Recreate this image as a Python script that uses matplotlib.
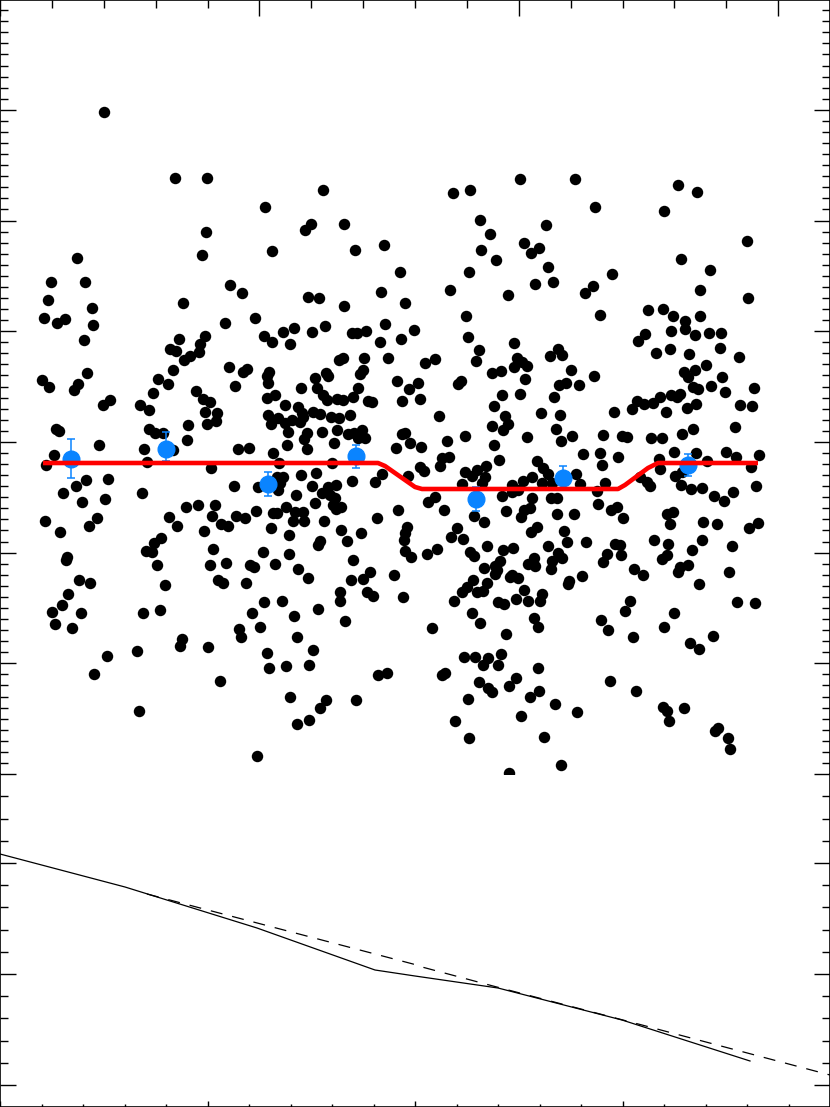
import numpy as np
import matplotlib
matplotlib.use("Agg")
import matplotlib.pyplot as plt
from matplotlib.ticker import MultipleLocator, NullFormatter, FixedLocator

# no labels on the original, so values are kept in read-off units
pts_a_x = [104,175,207,323,265,311,305,344,206,384,272,355,202,77,400,51,85,230,242,381,48,308,319,183,405,344,92,44,57,65,93,255,225,325,294,283,312,352,357,366,385,414,264,272,290,380,401,84,179,205,200,170,176,199,190,184,339,343,364,388,229,247,243,269,173,363,87,326]
pts_a_y = [112,178,178,190,207,224,230,224,232,245,251,250,255,258,272,282,282,285,293,292,300,297,298,303,303,306,308,318,323,319,325,318,323,326,328,332,332,333,333,331,324,330,336,342,344,342,339,340,339,336,344,349,351,352,356,360,360,358,358,358,367,369,372,372,370,370,373,373]

pts_b_x = [520,575,453,470,678,697,595,664,480,490,546,524,539,531,481,496,747,681,710,548,469,612,593,585,535,553,450,508,700,748,466,600,648,663,673,700,685,685,671,645,638,695,709,721,468,514,479,476,558,562,550,670,656,689,720,739,706,435,425,517,522,527,514,501,492,571,695,684]
pts_b_y = [179,179,193,190,185,192,207,211,220,234,225,243,248,253,250,260,241,259,270,267,272,274,286,293,284,282,290,295,290,298,316,315,310,309,316,316,321,329,331,334,341,335,333,333,337,343,350,361,349,355,356,349,353,354,348,357,365,359,363,358,362,366,367,371,373,370,370,372]

pts_c_x = [42,49,78,74,110,103,140,149,153,158,168,196,203,210,205,217,216,207,188,187,235,267,275,267,268,285,301,315,328,317,323,327,337,343,353,358,360,368,372,397,409,402,298,302,303,268,278,271,285,292,300,288,313,320,331,339,350,307,304,322,337,348,354,362,358,365,334,396,405,402,410,56,59,149,155,163,144,99,54,46,147,166,173,238,249,287,307,273,279,211,332,86,108,76,63,105,82,142,234,258,283,280,277,278,301,316,312,296,328,336,322,330,335,315,333,336,341,352,375,382,408,286,256,215,198,186,212,236,245,273,277,295,303,293,304,324,377,398,45,60,89,97,169,177,204,221,228,271,289,341,347,361,320,318,161,154,146,152,213,263,289,353,407,405,404,405,411,67,66,157,210,226,250,254,275,298,308,370,363,351,394,79,90,68,165,218,223,246,340,340,367,373,403,62,52,81,55,72,143,160,264,282,252,318,294,260,239,241,345,182,180,208,297,313,267,137,107,286,269,309,94,220,378,387,290,326,356,320,139,309,297,257]
pts_c_y = [380,387,384,390,400,405,405,410,393,379,384,391,399,402,412,413,421,424,425,440,386,398,395,376,383,405,388,378,376,388,395,400,399,400,397,388,374,401,402,381,389,401,407,413,417,415,418,424,423,420,422,432,412,414,417,418,415,433,439,432,430,434,433,430,438,438,443,448,433,434,443,429,431,429,433,433,449,445,455,465,462,450,450,449,448,445,449,453,463,468,463,480,479,486,493,499,502,493,486,487,477,483,477,490,475,473,486,495,487,485,493,495,498,503,505,509,507,481,482,474,476,507,511,505,505,507,516,516,518,513,513,512,512,521,521,521,518,510,521,532,526,518,517,526,531,524,526,528,535,530,541,533,541,545,538,543,551,552,549,552,554,560,527,533,540,551,557,557,560,565,565,563,565,567,564,569,578,572,579,580,575,580,583,594,585,580,583,583,592,601,592,596,597,605,612,613,624,628,613,610,602,601,613,609,616,627,629,637,621,639,646,647,637,650,653,651,656,666,668,665,674,681,675,673,697,700,700,708,711,720,724,756]

pts_d_x = [525,594,458,461,418,420,559,566,579,688,722,693,698,711,725,754,502,520,554,494,740,752,671,680,677,660,653,644,637,632,614,666,687,696,541,560,439,505,508,503,492,556,572,561,527,603,622,627,651,662,682,693,735,465,447,421,494,499,583,600,618,602,726,736,759,674,696,707,659,660,751,449,442,440,420,424,486,477,465,472,485,537,543,548,532,523,512,518,512,542,552,576,580,605,597,462,482,640,647,650,675,682,681,691,702,714,724,733,756,435,428,444,502,532,551,557,598,617,611,623,506,530,524,521,557,574,474,484,667,673,670,703,717,758,749,537,531,564,457,451,463,567,586,654,668,702,692,732,548,615,620,487,503,513,437,427,470,474,621,607,603,667,662,558,562,552,551,534,528,535,500,495,497,495,484,512,518,510,634,643,680,688,678,729,699,582,569,568,473,487,483,477,467,462,524,542,540,528,516,498,504,454,630,625,737,755,674,472,480,534,538,601,608,432,664,633,506,690,699,713,501,464,475,488,483,498,538,445,442,479,516,509,488,492,539,530,610,636,468,555,577,521,455,663,667,684,669,718,715,728,469,544,730,509,561]
pts_d_y = [379,376,384,381,383,399,385,383,385,377,377,387,389,386,392,388,395,394,397,406,405,406,395,394,397,397,403,404,401,409,412,412,408,404,413,415,416,416,424,430,426,429,436,441,437,435,436,437,438,438,434,429,427,436,441,447,445,460,454,453,457,465,452,457,455,452,453,461,459,469,467,457,458,466,467,471,466,470,472,476,477,461,468,474,477,481,485,490,492,483,483,474,484,483,491,484,483,477,482,486,476,472,485,489,488,496,501,492,486,497,502,510,496,498,498,498,504,507,510,518,511,508,510,517,514,514,516,522,514,512,524,522,524,523,528,527,532,531,528,537,539,542,542,540,544,540,550,546,546,544,545,546,550,548,549,554,552,556,555,554,562,555,559,553,558,561,569,558,564,566,561,566,570,574,568,575,578,577,569,575,567,565,572,572,584,576,581,584,580,583,591,592,587,592,590,594,601,601,599,602,604,601,601,611,602,603,613,613,623,618,627,620,630,628,627,637,634,643,649,636,654,657,657,658,665,665,668,673,675,682,678,686,688,692,691,697,681,691,699,704,712,716,721,707,711,708,721,728,731,738,738,737,749,773,765]

# binned means with their errors
bin_x = [71, 166, 268, 356, 476, 563, 688]
bin_y = [459, 449, 484, 456, 499, 478, 465]
bin_top = [439, 432, 472, 445, 487, 466, 454]
bin_bot = [478, 461, 496, 468, 511, 490, 476]

fit_x = [43, 378, 385, 415, 422, 618, 625, 648, 658, 758]
fit_y = [463, 463, 466, 487, 489, 489, 485, 468, 463, 463]

solid_x = [0, 125, 257, 375, 415, 498, 622, 750]
solid_y = [854, 887, 928, 970, 976, 988, 1020, 1061]
dash_x = [147, 413, 422, 493, 642, 830]
dash_y = [894, 964, 967, 986, 1025, 1075]

stars_x = pts_a_x + pts_b_x + pts_c_x + pts_d_x
stars_y = pts_a_y + pts_b_y + pts_c_y + pts_d_y

fig = plt.figure(figsize=(8.3, 11.07), dpi=100)
ax1 = fig.add_axes([0, 333 / 1107, 1, 774 / 1107])
ax2 = fig.add_axes([0, 0, 1, 333 / 1107])
ax2.patch.set_visible(False)

ax1.scatter(stars_x, stars_y, s=68, c="black", linewidths=0, zorder=2)
lower = np.array(bin_y) - np.array(bin_top)
upper = np.array(bin_bot) - np.array(bin_y)
ax1.errorbar(bin_x, bin_y, yerr=[lower, upper], fmt="o", ms=12, color="#0a84ff",
             elinewidth=1.1, capsize=3.2, capthick=1.1, zorder=3)
ax1.plot(fit_x, fit_y, color="red", lw=3.3, solid_capstyle="butt", solid_joinstyle="round", zorder=4)

ax1.set_xlim(0, 830)
ax1.set_ylim(774, 0)
ax1.xaxis.set_major_locator(MultipleLocator(259.4))
ax1.xaxis.set_minor_locator(MultipleLocator(51.88))
ax1.yaxis.set_major_locator(FixedLocator(774 - np.arange(0, 7) * 110.7))
ax1.yaxis.set_minor_locator(FixedLocator(774 - np.arange(1, 70) * 11.07))
ax1.spines["bottom"].set_visible(False)
ax1.tick_params(which="major", direction="in", length=11.5, width=1, top=True, bottom=False, left=True, right=True)
ax1.tick_params(which="minor", direction="in", length=5.8, width=1, top=True, bottom=False, left=True, right=True)

ax2.plot(solid_x, solid_y, color="black", lw=0.9)
ax2.plot(dash_x, dash_y, color="black", lw=0.9, dashes=(9.6, 8))

ax2.set_xlim(0, 830)
ax2.set_ylim(1107, 774)
ax2.xaxis.set_major_locator(MultipleLocator(207.5))
ax2.xaxis.set_minor_locator(MultipleLocator(41.5))
ax2.yaxis.set_major_locator(FixedLocator([1085, 974, 863]))
ax2.yaxis.set_minor_locator(FixedLocator(1085 - np.arange(1, 14) * 22.2))
ax2.spines["top"].set_visible(False)
ax2.tick_params(axis="y", which="major", direction="in", length=11.5, width=1, left=True, right=True)
ax2.tick_params(axis="y", which="minor", direction="in", length=5.8, width=1, left=True, right=True)
ax2.tick_params(axis="x", which="major", direction="in", length=4.5, width=1, top=False, bottom=True)
ax2.tick_params(axis="x", which="minor", direction="in", length=2.2, width=1, top=False, bottom=True)

for ax in [ax1, ax2]:
    ax.xaxis.set_major_formatter(NullFormatter())
    ax.yaxis.set_major_formatter(NullFormatter())
    for spine in ax.spines.values():
        spine.set_linewidth(1.2)

fig.savefig("out.png", dpi=100)
